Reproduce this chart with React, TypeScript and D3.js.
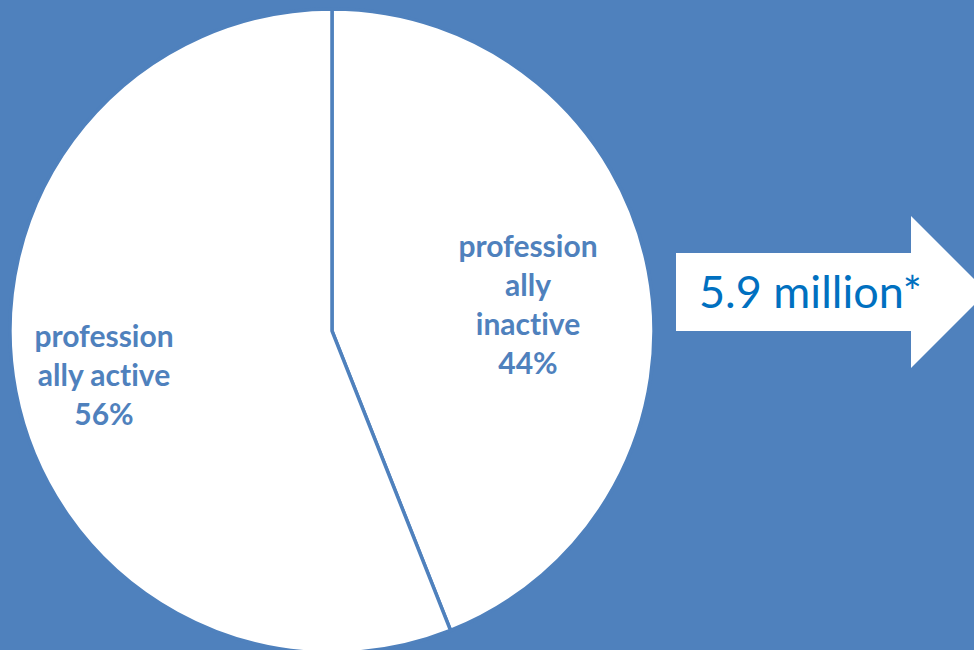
import React from "react";
import * as d3 from "d3";

const categories = ["inactive", "active"];
const labelLines = [
  ["profession", "ally", "inactive", "44%"],
  ["profession", "ally active", "56%"],
];
const values = [44, 56];
const calloutText = "5.9 million*";

const W = 974;
const H = 650;
const BG = "#4F81BD";
const TEXT_BLUE = "#4F81BD";
const CALLOUT_BLUE = "#0070C0";

export default function App() {
  const cx = 332;
  const cy = 331;
  const r = 322;

  const pie = d3
    .pie<number>()
    .sort(null)
    .value((d) => d)
    .startAngle(0)
    .endAngle(2 * Math.PI);
  const arcs = pie(values);
  const arc = d3.arc<d3.PieArcDatum<number>>().innerRadius(0).outerRadius(r);

  // label block anchors (relative to the pie centre): x centre, first baseline
  const labelAnchors = [
    { dx: 196, dy: -74 },
    { dx: -228, dy: 16 },
  ];
  const lineH = 39;

  // arrow geometry
  const ax0 = 676, ax1 = 911, ay0 = 253, ay1 = 331, hy0 = 216, hy1 = 368, tipX = 987;
  const tipY = (hy0 + hy1) / 2;
  const arrowPath = d3.path();
  arrowPath.moveTo(ax0, ay0);
  arrowPath.lineTo(ax1, ay0);
  arrowPath.lineTo(ax1, hy0);
  arrowPath.lineTo(tipX, tipY);
  arrowPath.lineTo(ax1, hy1);
  arrowPath.lineTo(ax1, ay1);
  arrowPath.lineTo(ax0, ay1);
  arrowPath.closePath();

  return (
    <svg
      width={W}
      height={H}
      style={{ position: "absolute", left: 0, top: 0, display: "block" }}
    >
      <rect x={0} y={0} width={W} height={H} fill={BG} />
      <g transform={`translate(${cx},${cy})`}>
        {arcs.map((a, i) => (
          <path
            key={categories[i]}
            d={arc(a) || ""}
            fill="#FFFFFF"
            stroke={BG}
            strokeWidth={3.5}
            strokeLinejoin="miter"
          />
        ))}
        {labelLines.map((lines, i) => (
          <text
            key={categories[i]}
            textAnchor="middle"
            fontFamily="Lato, 'Open Sans', sans-serif"
            fontWeight={700}
            fontSize={30}
            fill={TEXT_BLUE}
            style={{ fontVariantLigatures: "none" }}
          >
            {lines.map((ln, j) => (
              <tspan
                key={j}
                x={labelAnchors[i].dx}
                y={labelAnchors[i].dy + j * lineH}
              >
                {ln}
              </tspan>
            ))}
          </text>
        ))}
      </g>
      <path d={arrowPath.toString()} fill="#FFFFFF" />
      <text
        x={699}
        y={308}
        fontFamily="Lato, 'Open Sans', sans-serif"
        fontSize={45}
        fill={CALLOUT_BLUE}
      >
        {calloutText}
      </text>
    </svg>
  );
}
